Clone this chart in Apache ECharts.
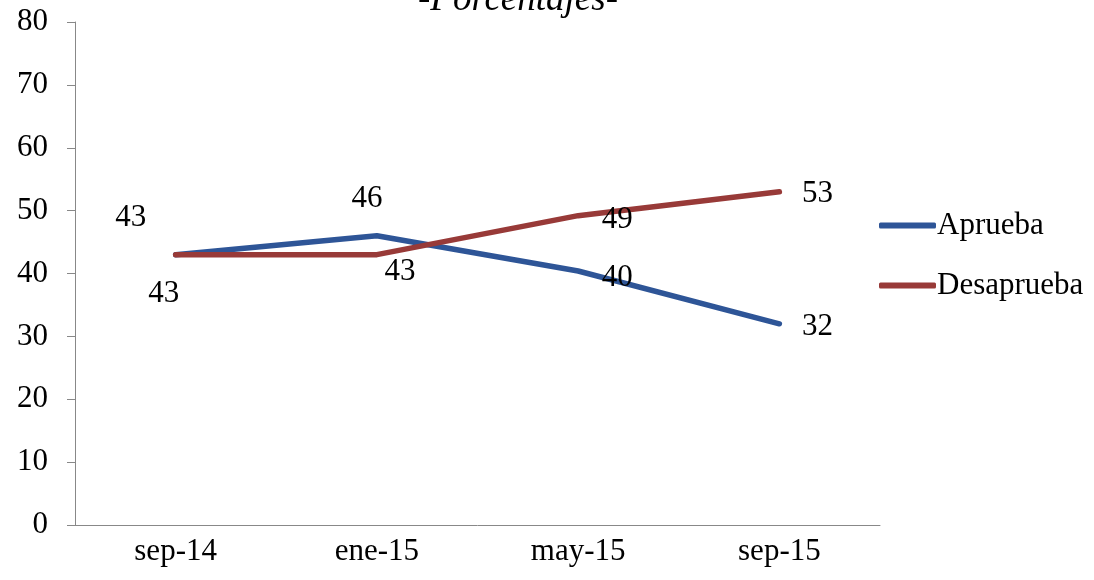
<!DOCTYPE html>
<html>
<head>
<meta charset="utf-8">
<script src="https://cdn.jsdelivr.net/npm/echarts@6/dist/echarts.min.js"></script>
<style>html,body{margin:0;padding:0;background:#fff}#c{width:1094px;height:580px}</style>
</head>
<body>
<div id="c"></div>
<script>
var categories = ['sep-14', 'ene-15', 'may-15', 'sep-15'];
var aprueba = [43, 46, 40.4, 32];
var desaprueba = [43, 43, 49.2, 53];
var yTicks = [0, 10, 20, 30, 40, 50, 60, 70, 80];

// label offsets (style only)
var apruebaOffsets = [[-12, 39], [-10, -37], [39, 7], [38, 3]];
var desapruebaOffsets = [[-45, -37], [23, 17], [39, 4], [38, 2]];

var FONT = '"Liberation Serif", "Times New Roman", serif';
var FS = 31;

function build(vals, offs) {
  return vals.map(function (v, i) {
    return { value: v, label: { offset: offs[i] } };
  });
}

var chart = echarts.init(document.getElementById('c'));
chart.setOption({
  animation: false,
  title: {
    text: '-Porcentajes-',
    left: 513, top: -23,
    textAlign: 'center',
    textStyle: { fontFamily: FONT, fontStyle: 'italic', fontWeight: 'normal', fontSize: 37, color: '#000' }
  },
  legend: {
    orient: 'vertical',
    left: 874, top: 205,
    itemWidth: 57, itemHeight: 6, itemGap: 29,
    icon: 'roundRect',
    textStyle: { fontFamily: FONT, fontSize: FS, color: '#000', padding: [0, 0, 0, -4] },
    data: ['Aprueba', 'Desaprueba']
  },
  grid: { left: 75, right: 214, top: 22, bottom: 55 },
  xAxis: {
    type: 'category',
    data: categories,
    boundaryGap: true,
    axisLine: { lineStyle: { color: '#888', width: 1 } },
    axisTick: { show: false },
    axisLabel: { fontFamily: FONT, fontSize: FS, color: '#000', margin: 11 }
  },
  yAxis: {
    type: 'value',
    min: yTicks[0], max: yTicks[yTicks.length - 1], interval: 10,
    splitLine: { show: false },
    axisLine: { show: true, lineStyle: { color: '#888', width: 1 } },
    axisTick: { show: true, length: 8, lineStyle: { color: '#888' } },
    axisLabel: { fontFamily: FONT, fontSize: FS, color: '#000', margin: 27 }
  },
  series: [
    {
      name: 'Aprueba', type: 'line',
      data: build(aprueba, apruebaOffsets),
      symbol: 'circle', symbolSize: 0, showSymbol: true,
      lineStyle: { width: 5.5, color: '#2E5597', cap: 'round', join: 'round' },
      itemStyle: { color: '#2E5597' },
      label: {
        show: true, position: 'inside',
        fontFamily: FONT, fontSize: FS, color: '#000',
        formatter: function (p) { return Math.round(p.value); }
      }
    },
    {
      name: 'Desaprueba', type: 'line',
      data: build(desaprueba, desapruebaOffsets),
      symbol: 'circle', symbolSize: 0, showSymbol: true,
      lineStyle: { width: 5.5, color: '#983A38', cap: 'round', join: 'round' },
      itemStyle: { color: '#983A38' },
      label: {
        show: true, position: 'inside',
        fontFamily: FONT, fontSize: FS, color: '#000',
        formatter: function (p) { return Math.round(p.value); }
      }
    }
  ]
});
</script>
</body>
</html>
